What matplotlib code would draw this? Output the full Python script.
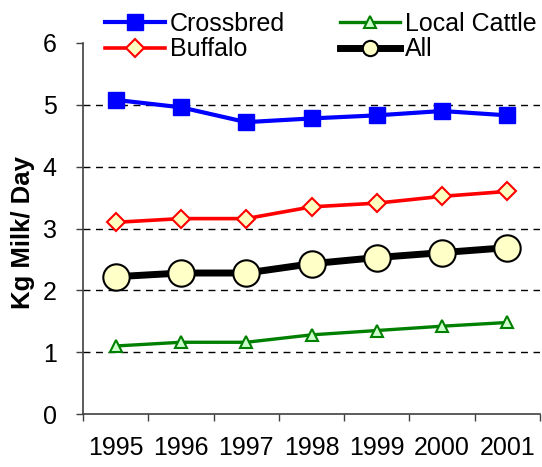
import matplotlib.pyplot as plt

years = ["1995", "1996", "1997", "1998", "1999", "2000", "2001"]
crossbred = [5.08, 4.96, 4.72, 4.78, 4.83, 4.90, 4.83]
local_cattle = [1.10, 1.16, 1.16, 1.28, 1.35, 1.42, 1.48]
buffalo = [3.10, 3.16, 3.16, 3.35, 3.41, 3.52, 3.60]
all_animals = [2.22, 2.28, 2.28, 2.43, 2.53, 2.61, 2.69]

plt.rcParams['font.family'] = ['Liberation Sans', 'DejaVu Sans']

fig = plt.figure(figsize=(5.42, 4.67), dpi=100)
ax = fig.add_axes([83 / 542, 53 / 467, 457 / 542, 371 / 467])

x = list(range(len(years)))

h_cb, = ax.plot(x, crossbred, color='#0000FF', lw=3, marker='s', ms=12,
                mfc='#0000FF', mec='#0000FF', label='Crossbred', zorder=3)
h_lc, = ax.plot(x, local_cattle, color='#008000', lw=2.4, marker='^', ms=9,
                mfc='#CCFFCC', mec='#008000', mew=1.5, label='Local Cattle', zorder=3)
h_bf, = ax.plot(x, buffalo, color='#FF0000', lw=2.6, marker='D', ms=9,
                mfc='#FFFFC0', mec='#FF0000', mew=1.5, label='Buffalo', zorder=3)
h_all, = ax.plot(x, all_animals, color='black', lw=5, marker='o', ms=19,
                 mfc='#FFFFC8', mec='black', mew=1.5, label='All', zorder=3)

ax.set_xlim(-0.5, len(years) - 0.5)
ax.set_ylim(0, 6)
ax.set_yticks(range(0, 7))
ax.set_xticks(x)
ax.set_xticklabels(years)
ax.set_xticks([i - 0.5 for i in range(len(years) + 1)], minor=True)

ax.tick_params(axis='x', which='major', length=0, pad=16, labelsize=18)
ax.tick_params(axis='x', which='minor', length=5, width=1, color='#404040', direction='out')
ax.tick_params(axis='y', length=5, width=1, color='#404040', direction='out', pad=14, labelsize=18)

ax.yaxis.grid(True, color='black', ls=(0, (5, 4)), lw=1)
ax.get_ygridlines()[0].set_visible(False)
ax.get_ygridlines()[-1].set_visible(False)
ax.set_axisbelow(True)

for s in ['top', 'right']:
    ax.spines[s].set_visible(False)
for s in ['left', 'bottom']:
    ax.spines[s].set_color('#404040')
    ax.spines[s].set_linewidth(1.2)

ax.set_ylabel('Kg Milk/ Day', fontsize=18.5, fontweight='bold')
ax.yaxis.set_label_coords(-0.105, 0.49)

# legend is filled row by row in the original, matplotlib fills columns
leg = fig.legend([h_cb, h_bf, h_lc, h_all], ['Crossbred', 'Buffalo', 'Local Cattle', 'All'],
                 loc='upper left', bbox_to_anchor=(105 / 542, 1 - 12 / 467), ncol=2,
                 frameon=False, fontsize=18, handlelength=2.4, handletextpad=0.2,
                 columnspacing=2.2, labelspacing=0.05, borderpad=0, borderaxespad=0)
leg.legend_handles[3].set_markersize(11)

fig.savefig('out.png', dpi=100)
